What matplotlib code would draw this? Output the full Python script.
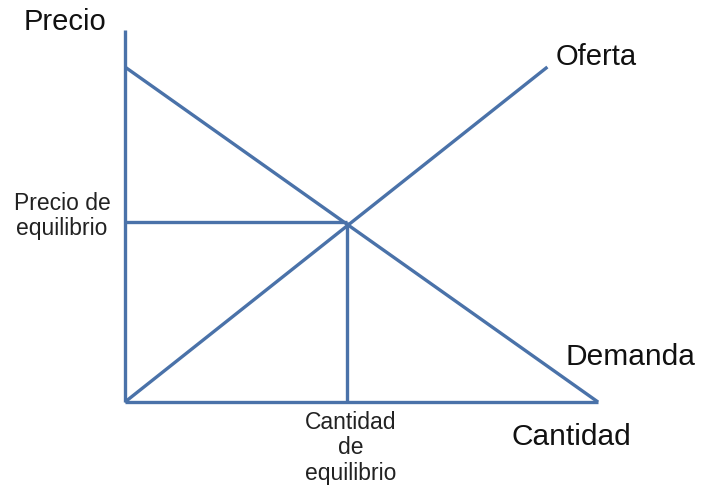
import matplotlib.pyplot as plt

# --- datos (unidades arbitrarias de cantidad / precio) ---
demanda_q = [0, 10]
demanda_p = [10, 0]
oferta_q = [0, 8.93]
oferta_p = [0, 10]
eq_q = 4.69
eq_p = 5.37
eje_y_max = 11.1
eje_x_max = 10

COLOR = '#4a72a9'
LW = 2.4

W, H = 701, 493
fig = plt.figure(figsize=(W / 100, H / 100), dpi=100)
fig.patch.set_facecolor('white')

# ejes: origen en (125, 402) px, x=10 -> 598 px, y=10 -> 67 px
ax = fig.add_axes([125 / W, (H - 402) / H, 473 / W, 335 / H])
ax.set_xlim(0, 10)
ax.set_ylim(0, 10)
ax.axis('off')

kw = dict(color=COLOR, lw=LW, clip_on=False, solid_capstyle='butt')
ax.plot([0, 0], [0, eje_y_max], **kw)
ax.plot([0, eje_x_max], [0, 0], **kw)
ax.plot(demanda_q, demanda_p, **kw)
ax.plot(oferta_q, oferta_p, **kw)
ax.plot([0, eq_q], [eq_p, eq_p], **kw)
ax.plot([eq_q, eq_q], [0, eq_p], **kw)

font = 'Liberation Sans'


def px(x, y):
    return x / W, 1 - y / H


fig.text(*px(65, 22), 'Precio', ha='center', va='center', fontsize=21, family=font, color='#111111')
fig.text(*px(556, 57), 'Oferta', ha='left', va='center', fontsize=21, family=font, color='#111111')
fig.text(*px(565, 357), 'Demanda', ha='left', va='center', fontsize=21.5, family=font, color='#111111')
fig.text(*px(571, 437), 'Cantidad', ha='center', va='center', fontsize=21.5, family=font, color='#111111')
fig.text(*px(62, 216), 'Precio de\nequilibrio', ha='center', va='center', fontsize=16.5,
         family=font, color='#222222', linespacing=1.1, multialignment='center')
fig.text(*px(351, 448), 'Cantidad\nde\nequilibrio', ha='center', va='center', fontsize=16.5,
         family=font, color='#222222', linespacing=1.12, multialignment='center')

plt.savefig('out.png', dpi=100, facecolor='white')
